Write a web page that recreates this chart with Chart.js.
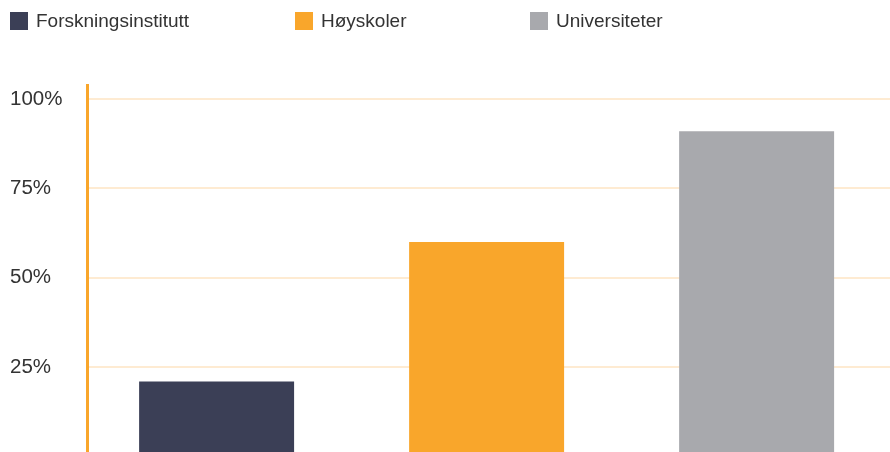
<!DOCTYPE html>
<html>
<head>
<meta charset="utf-8">
<script src="https://cdn.jsdelivr.net/npm/chart.js@4"></script>
<style>
  html, body { margin: 0; padding: 0; background: #fff; overflow: hidden; width: 890px; height: 452px; }
  #wrap { position: relative; width: 890px; height: 469px; }
  #legend { position: absolute; left: 0; top: 0; width: 890px; height: 40px; font-family: "Liberation Sans", Arial, Helvetica, sans-serif; font-size: 19px; color: #333; }
  .item { position: absolute; top: 12px; height: 18px; display: flex; align-items: center; white-space: nowrap; }
  .box { width: 18px; height: 18px; margin-right: 8px; flex: none; }
</style>
</head>
<body>
<div id="wrap">
  <canvas id="c" width="890" height="469"></canvas>
  <div id="legend"></div>
</div>
<script>
const categories = ["Forskningsinstitutt", "Høyskoler", "Universiteter"];
const values = [21, 60, 91];
const colors = ["#3b3f56", "#f9a62b", "#a8a9ad"];
const yTicks = [25, 50, 75, 100];
const legendLeft = [10, 295, 530];

// HTML legend
const legend = document.getElementById('legend');
categories.forEach((name, i) => {
  const it = document.createElement('div');
  it.className = 'item';
  it.style.left = legendLeft[i] + 'px';
  const b = document.createElement('span');
  b.className = 'box';
  b.style.background = colors[i];
  const t = document.createElement('span');
  t.textContent = name;
  it.appendChild(b); it.appendChild(t);
  legend.appendChild(it);
});

const datasets = categories.map((name, i) => ({
  label: name,
  data: [{ x: i, y: values[i] }],
  backgroundColor: colors[i],
  borderWidth: 0,
  grouped: false,
  barPercentage: 0.574,
  categoryPercentage: 1
}));

new Chart(document.getElementById('c'), {
  type: 'bar',
  data: { datasets },
  options: {
    responsive: false,
    animation: false,
    layout: { padding: { left: 10, top: 85, right: 0, bottom: 4 } },
    plugins: { legend: { display: false }, tooltip: { enabled: false } },
    scales: {
      x: {
        type: 'linear',
        display: false,
        offset: false,
        min: -0.48,
        max: 2.494,
        afterBuildTicks: (s) => { s.ticks = categories.map((_, i) => ({ value: i })); }
      },
      y: {
        min: 0,
        max: 103.9,
        afterBuildTicks: (s) => { s.ticks = yTicks.map(v => ({ value: v })); },
        afterFit: (s) => { s.width = 77; },
        border: { display: true, color: '#f9a62b', width: 3 },
        grid: { color: '#feebd2', lineWidth: 2, drawTicks: false },
        ticks: {
          crossAlign: 'far',
          padding: 0,
          color: '#333',
          font: { family: '"Liberation Sans", Arial, Helvetica, sans-serif', size: 20.5 },
          callback: (v) => v + '%'
        }
      }
    }
  }
});
</script>
</body>
</html>
